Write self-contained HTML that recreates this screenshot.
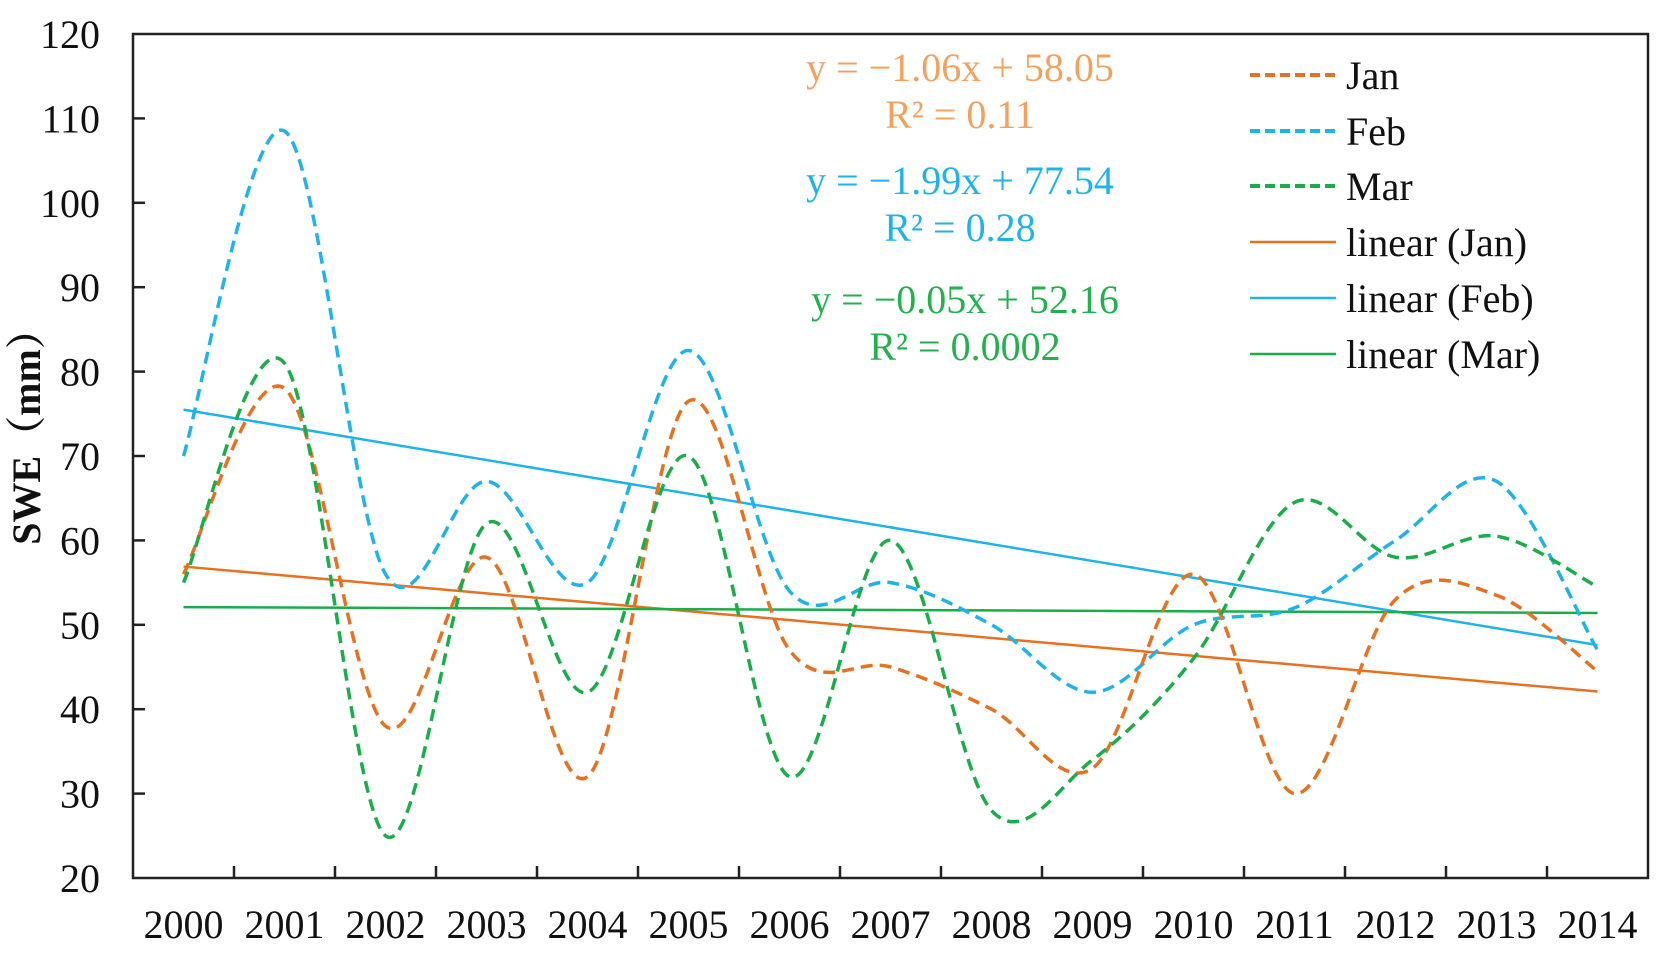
<!DOCTYPE html>
<html><head><meta charset="utf-8"><style>
html,body{margin:0;padding:0;background:#fff;}
svg{display:block;font-family:"Liberation Serif",serif;}
</style></head><body>
<svg id="s" width="1668" height="965" xmlns="http://www.w3.org/2000/svg">
<rect width="1668" height="965" fill="#fff"/>
<g id="plot"></g>
<rect x="133" y="34" width="1515" height="844" fill="none" stroke="#222" stroke-width="2.5"/>
<g id="ticks" stroke="#222" stroke-width="2.5"></g>
<g id="labels" font-size="40" fill="#111"></g>
<text transform="translate(40,427) rotate(-90)" font-size="40" font-weight="bold" text-anchor="middle" font-family="'Liberation Serif','Noto Serif CJK SC',serif" fill="#111">SWE（mm）</text>
<g font-size="40" text-anchor="middle">
<text x="960" y="81" fill="#F4A15D">y = −1.06x + 58.05</text>
<text x="960" y="128" fill="#F4A15D">R² = 0.11</text>
<text x="960" y="194" fill="#1FB3EC">y = −1.99x + 77.54</text>
<text x="960" y="241" fill="#1FB3EC">R² = 0.28</text>
<text x="965" y="313" fill="#22B14C">y = −0.05x + 52.16</text>
<text x="965" y="360" fill="#22B14C">R² = 0.0002</text>
</g>
<g font-size="40" fill="#111">
<line x1="1250" y1="75" x2="1336" y2="75" stroke="#E8711F" stroke-width="4" stroke-dasharray="10,5"/><text x="1346" y="89">Jan</text>
<line x1="1250" y1="131" x2="1336" y2="131" stroke="#1FB3EC" stroke-width="4" stroke-dasharray="10,5"/><text x="1346" y="145">Feb</text>
<line x1="1250" y1="186" x2="1336" y2="186" stroke="#1AAE4A" stroke-width="4" stroke-dasharray="10,5"/><text x="1346" y="200">Mar</text>
<line x1="1250" y1="242" x2="1336" y2="242" stroke="#E8711F" stroke-width="2.5"/><text x="1346" y="256">linear (Jan)</text>
<line x1="1250" y1="298" x2="1336" y2="298" stroke="#1FB3EC" stroke-width="2.5"/><text x="1346" y="312">linear (Feb)</text>
<line x1="1250" y1="354" x2="1336" y2="354" stroke="#1AAE4A" stroke-width="2.5"/><text x="1346" y="368">linear (Mar)</text>
</g>
</svg>
<script>
var NS="http://www.w3.org/2000/svg";
function Y(v){return 878-(v-20)*8.44;}
function X(i){return 183.5+101*i;}
function el(p,t,a){var e=document.createElementNS(NS,t);for(var k in a)e.setAttribute(k,a[k]);p.appendChild(e);return e;}
var ticks=document.getElementById('ticks'),labels=document.getElementById('labels'),plot=document.getElementById('plot');
for(var v=20;v<=120;v+=10){var y=Y(v);if(v>20&&v<120)el(ticks,'line',{x1:133,y1:y,x2:145,y2:y});
var t=el(labels,'text',{x:100,y:y+14,'text-anchor':'end'});t.textContent=v;}
for(var i=1;i<15;i++){var x=133+101*i;el(ticks,'line',{x1:x,y1:878,x2:x,y2:866});}
for(var i=0;i<15;i++){var t=el(labels,'text',{x:X(i),y:938,'text-anchor':'middle'});t.textContent=2000+i;}
function spline(d){var p=d.map(function(v,i){return[X(i),Y(v)];});var s="M"+p[0][0]+","+p[0][1];
for(var i=0;i<p.length-1;i++){var p0=p[Math.max(i-1,0)],p1=p[i],p2=p[i+1],p3=p[Math.min(i+2,p.length-1)];
var c1=[p1[0]+(p2[0]-p0[0])/6,p1[1]+(p2[1]-p0[1])/6],c2=[p2[0]-(p3[0]-p1[0])/6,p2[1]-(p3[1]-p1[1])/6];
s+=" C"+c1[0]+","+c1[1]+" "+c2[0]+","+c2[1]+" "+p2[0]+","+p2[1];}return s;}
var jan=[56,78,38,58,32,76.5,47,45,40,33,56,30,53,53.5,44.5];
var feb=[70,108.5,56,67,55,82.5,54,55,50,42,50,52,60,67,47];
var mar=[55,81,25,62,42,70,32,60,28,34,46,64.5,58,60.5,54.5];
var C={j:"#E8711F",f:"#1FB3EC",m:"#1AAE4A"};
el(plot,'line',{x1:X(0),y1:Y(56.9),x2:X(14),y2:Y(42.1),stroke:C.j,'stroke-width':2.5});
el(plot,'line',{x1:X(0),y1:Y(75.5),x2:X(14),y2:Y(47.6),stroke:C.f,'stroke-width':2.5});
el(plot,'line',{x1:X(0),y1:Y(52.1),x2:X(14),y2:Y(51.4),stroke:C.m,'stroke-width':2.5});
[[feb,C.f],[jan,C.j],[mar,C.m]].forEach(function(a){el(plot,'path',{d:spline(a[0]),fill:'none',stroke:a[1],'stroke-width':3.5,'stroke-dasharray':'12,7'});});
</script>
</body></html>
